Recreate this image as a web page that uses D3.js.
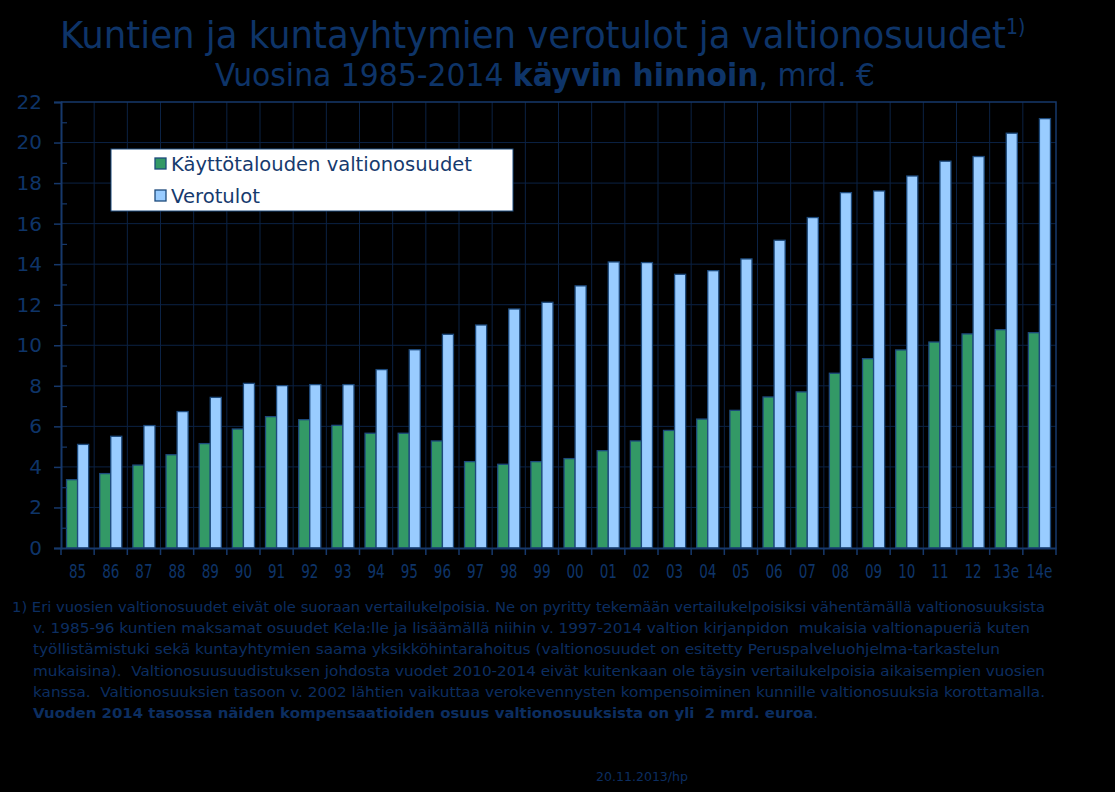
<!DOCTYPE html>
<html><head><meta charset="utf-8">
<script src="https://cdn.jsdelivr.net/npm/d3@7"></script>
<style>
html,body{margin:0;padding:0;background:#000;}
svg{display:block;}
text{white-space:pre;}
</style></head>
<body>
<svg id="c" width="1115" height="792"></svg>
<script>
const categories = ["85","86","87","88","89","90","91","92","93","94","95","96","97","98","99","00","01","02","03","04","05","06","07","08","09","10","11","12","13e","14e"];
const valtionosuudet = [3.37,3.67,4.09,4.60,5.15,5.87,6.48,6.33,6.05,5.66,5.66,5.28,4.26,4.13,4.26,4.41,4.80,5.28,5.80,6.36,6.79,7.45,7.70,8.62,9.34,9.77,10.16,10.56,10.77,10.62];
const verotulot = [5.11,5.51,6.04,6.73,7.43,8.12,8.01,8.06,8.06,8.80,9.78,10.54,11.00,11.79,12.12,12.93,14.11,14.08,13.50,13.68,14.26,15.18,16.30,17.53,17.61,18.35,19.08,19.31,20.46,21.18];
const seriesNames = ["Käyttötalouden valtionosuudet","Verotulot"];
const seriesColors = ["#339966","#99ccff"];
const yTicks = [0,2,4,6,8,10,12,14,16,18,20,22];
const footnoteLines = [
 "1) Eri vuosien valtionosuudet eivät ole suoraan vertailukelpoisia. Ne on pyritty tekemään vertailukelpoisiksi vähentämällä valtionosuuksista",
 "v. 1985-96 kuntien maksamat osuudet Kela:lle ja lisäämällä niihin v. 1997-2014 valtion kirjanpidon  mukaisia valtionapueriä kuten",
 "työllistämistuki sekä kuntayhtymien saama yksikköhintarahoitus (valtionosuudet on esitetty Peruspalveluohjelma-tarkastelun",
 "mukaisina).  Valtionosuusuudistuksen johdosta vuodet 2010-2014 eivät kuitenkaan ole täysin vertailukelpoisia aikaisempien vuosien",
 "kanssa.  Valtionosuuksien tasoon v. 2002 lähtien vaikuttaa verokevennysten kompensoiminen kunnille valtionosuuksia korottamalla."
];
const footnoteBold = "Vuoden 2014 tasossa näiden kompensaatioiden osuus valtionosuuksista on yli  2 mrd. euroa";

const svg = d3.select("#c");
const navy = "#0e3468";
const L=61, R=1056, T=102, B=548;

const x = d3.scaleBand().domain(categories).range([L,R]).paddingInner(0).paddingOuter(0);
const x1 = d3.scaleBand().domain([0,1]).range([0,x.bandwidth()]).paddingInner(0).paddingOuter(0.5);
const y = d3.scaleLinear().domain([0,22]).range([B,T]);

svg.append("rect").attr("width",1115).attr("height",792).attr("fill","#000");

// grid
const g = svg.append("g");
g.selectAll(".hg").data(yTicks.filter(v=>v>0&&v<22)).join("line")
 .attr("x1",L).attr("x2",R).attr("y1",d=>y(d)).attr("y2",d=>y(d))
 .attr("stroke","#0b2244").attr("stroke-width",1);
g.selectAll(".vg").data(categories.slice(1)).join("line")
 .attr("x1",d=>x(d)).attr("x2",d=>x(d)).attr("y1",T).attr("y2",B)
 .attr("stroke","#0b2244").attr("stroke-width",1);

// bars
const data = categories.map((c,i)=>({c, v:[valtionosuudet[i], verotulot[i]]}));
const grp = svg.append("g").selectAll("g").data(data).join("g")
 .attr("transform",d=>`translate(${x(d.c)},0)`);
grp.selectAll("rect").data(d=>d.v.map((v,k)=>({v,k}))).join("rect")
 .attr("x",d=>x1(d.k)).attr("width",x1.bandwidth())
 .attr("y",d=>y(d.v)).attr("height",d=>y(0)-y(d.v))
 .attr("fill",d=>seriesColors[d.k]).attr("stroke","#1d4a7c").attr("stroke-width",1.3);

// frame
svg.append("path").attr("d",`M${L},${T}H${R}V${B}`).attr("fill","none").attr("stroke","#16386b").attr("stroke-width",1.5);

// y axis
const ya = svg.append("g").attr("transform",`translate(${L},0)`)
 .call(d3.axisLeft(y).tickValues(yTicks).tickSize(7).tickPadding(12).tickFormat(d3.format("d")));
ya.select(".domain").attr("stroke","#16386b").attr("stroke-width",2);
ya.selectAll(".tick line").attr("stroke","#16386b").attr("stroke-width",1.5);
ya.selectAll("text").attr("fill",navy).attr("font-family","DejaVu Sans, Verdana, sans-serif").attr("font-size",20);
const minor = d3.range(1,22,2);
const ym = svg.append("g").attr("transform",`translate(${L},0)`)
 .call(d3.axisRight(y).tickValues(minor).tickSize(6).tickFormat(""));
ym.select(".domain").remove();
ym.selectAll(".tick line").attr("stroke","#16386b").attr("stroke-width",1.2);

// x axis
const xa = svg.append("g").attr("transform",`translate(0,${B})`)
 .call(d3.axisBottom(x).tickSize(0).tickPadding(16));
xa.select(".domain").attr("stroke","#16386b").attr("stroke-width",2);
xa.selectAll("text").attr("fill",navy).attr("font-family","DejaVu Sans Condensed, DejaVu Sans, sans-serif").attr("font-stretch","condensed").attr("font-size",19.5)
 .attr("textLength",d=>d.length*8.6).attr("lengthAdjust","spacingAndGlyphs");
svg.append("g").selectAll("line").data(categories.concat(["_end"])).join("line")
 .attr("x1",(d,i)=>i<categories.length? x(d): R).attr("x2",(d,i)=>i<categories.length? x(d): R)
 .attr("y1",B).attr("y2",B+7).attr("stroke","#16386b").attr("stroke-width",1.5);

// legend
const lg = svg.append("g");
lg.append("rect").attr("x",111).attr("y",149).attr("width",402).attr("height",62).attr("fill","#fff").attr("stroke","#1d4a7c").attr("stroke-width",1);
const legW = [301, 89];
seriesNames.forEach((n,k)=>{
  const yy = 158 + k*32;
  lg.append("rect").attr("x",155).attr("y",yy).attr("width",11).attr("height",11).attr("fill",seriesColors[k]).attr("stroke","#1d4a7c").attr("stroke-width",1.3);
  lg.append("text").attr("x",171).attr("y",yy+13).attr("fill","#163a6e")
   .attr("font-family","DejaVu Sans, Verdana, sans-serif").attr("font-size",19.5).text(n)
   .attr("textLength",legW[k]).attr("lengthAdjust","spacingAndGlyphs");
});

// title
const tf = "DejaVu Sans Condensed, DejaVu Sans, sans-serif";
const t1 = svg.append("text").attr("x",60).attr("y",48).attr("fill",navy).attr("font-family",tf).attr("font-stretch","condensed").attr("font-size",38);
t1.append("tspan").text("Kuntien ja kuntayhtymien verotulot ja valtionosuudet").attr("textLength",946).attr("lengthAdjust","spacingAndGlyphs");
t1.append("tspan").attr("font-size",21).attr("dy",-14).text("1)");
const t2 = svg.append("text").attr("x",545).attr("y",86).attr("text-anchor","middle").attr("fill",navy).attr("font-family",tf).attr("font-stretch","condensed").attr("font-size",32)
 .attr("textLength",660).attr("lengthAdjust","spacingAndGlyphs");
t2.append("tspan").text("Vuosina 1985-2014 ");
t2.append("tspan").attr("font-weight","bold").text("käyvin hinnoin");
t2.append("tspan").text(", mrd. €");

// footnote
const ff = "DejaVu Sans, Verdana, sans-serif";
const fEnds = [1045,1030,1000,1045,1045];
footnoteLines.forEach((s,i)=>{
  const x0 = i===0?12:33;
  svg.append("text").attr("x",x0).attr("y",612+i*21.2).attr("fill","#0c2e60").attr("font-family",ff).attr("font-size",14)
   .attr("textLength",fEnds[i]-x0).attr("lengthAdjust","spacingAndGlyphs").text(s);
});
const fb = svg.append("text").attr("x",33).attr("y",612+5*21.2).attr("fill","#0c2e60").attr("font-family",ff).attr("font-size",14)
 .attr("textLength",818-33).attr("lengthAdjust","spacingAndGlyphs");
fb.append("tspan").attr("font-weight","bold").text(footnoteBold);
fb.append("tspan").text(".");

svg.append("text").attr("x",596).attr("y",781).attr("fill","#0c2e60").attr("font-family",ff).attr("font-size",12.5)
 .attr("textLength",92).attr("lengthAdjust","spacingAndGlyphs").text("20.11.2013/hp");
</script>
</body></html>
